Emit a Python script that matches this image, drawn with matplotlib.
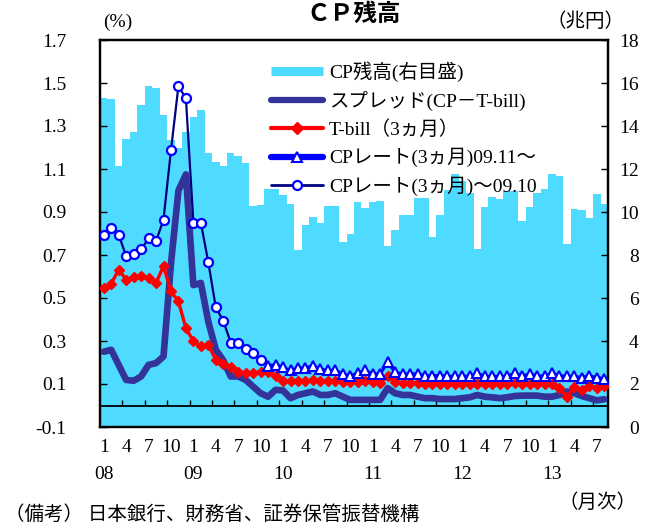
import numpy as np
import matplotlib
matplotlib.use("Agg")
import matplotlib.pyplot as plt
from matplotlib.lines import Line2D
from matplotlib.transforms import blended_transform_factory

SERIF_JP = ["Liberation Serif", "Noto Sans CJK JP"]
plt.rcParams["font.family"] = SERIF_JP

# Monthly data, Jan 2008 - Aug 2013
cp_balance = [15.30, 15.24, 12.14, 13.39, 13.70, 14.97, 15.86, 15.77, 14.49, 13.37,
              13.00, 13.70, 14.40, 14.75, 12.73, 12.33, 12.14, 12.73, 12.62, 12.30,
              10.26, 10.34, 11.08, 11.07, 10.80, 10.35, 8.21, 9.38, 9.75, 9.50,
              10.27, 10.27, 8.61, 9.00, 10.46, 10.20, 10.46, 10.49, 8.44, 9.16,
              9.87, 9.87, 10.65, 10.65, 8.83, 9.87, 11.02, 11.79, 11.43, 10.90,
              8.29, 10.23, 10.70, 10.59, 10.97, 10.97, 9.58, 10.23, 10.87, 11.08,
              11.75, 11.68, 8.49, 10.12, 10.10, 9.73, 10.82, 10.35]

spread = [0.250, 0.259, 0.189, 0.119, 0.115, 0.135, 0.189, 0.197, 0.228, 0.660,
          1.000, 1.075, 0.560, 0.570, 0.390, 0.260, 0.210, 0.135, 0.135, 0.119,
          0.088, 0.057, 0.041, 0.073, 0.070, 0.034, 0.049, 0.057, 0.065, 0.049,
          0.049, 0.057, 0.041, 0.026, 0.026, 0.026, 0.026, 0.026, 0.081, 0.057,
          0.049, 0.049, 0.041, 0.034, 0.034, 0.030, 0.030, 0.030, 0.034, 0.038,
          0.049, 0.041, 0.038, 0.034, 0.038, 0.044, 0.046, 0.046, 0.046, 0.041,
          0.041, 0.049, 0.065, 0.057, 0.044, 0.034, 0.024, 0.029]

tbill = [0.547, 0.566, 0.632, 0.586, 0.596, 0.601, 0.594, 0.570, 0.648, 0.531,
         0.484, 0.360, 0.298, 0.275, 0.282, 0.213, 0.192, 0.181, 0.158, 0.150,
         0.150, 0.158, 0.158, 0.135, 0.112, 0.115, 0.115, 0.115, 0.120, 0.115,
         0.112, 0.112, 0.110, 0.110, 0.110, 0.112, 0.110, 0.105, 0.135, 0.110,
         0.105, 0.105, 0.105, 0.100, 0.100, 0.100, 0.100, 0.100, 0.100, 0.100,
         0.100, 0.100, 0.100, 0.100, 0.100, 0.105, 0.100, 0.100, 0.100, 0.100,
         0.100, 0.080, 0.040, 0.085, 0.070, 0.090, 0.080, 0.090]

# CP rate up to Oct 2009
cp_rate_old = [0.795, 0.827, 0.795, 0.694, 0.705, 0.726, 0.777, 0.764, 0.865, 1.187,
               1.486, 1.428, 0.850, 0.850, 0.666, 0.456, 0.394, 0.293, 0.293, 0.264,
               0.244, 0.213]
# CP rate from Nov 2009
cp_rate_new = [0.186, 0.190, 0.178, 0.163, 0.175, 0.175, 0.186, 0.170, 0.163, 0.163,
               0.147, 0.139, 0.150, 0.163, 0.147, 0.147, 0.202, 0.155, 0.147, 0.147,
               0.147, 0.139, 0.139, 0.139, 0.136, 0.136, 0.136, 0.136, 0.150, 0.136,
               0.136, 0.136, 0.136, 0.150, 0.139, 0.145, 0.139, 0.136, 0.150, 0.139,
               0.136, 0.136, 0.130, 0.139, 0.130, 0.125]

month_labels = ["1", "4", "7", "10"] * 5 + ["1", "4", "7"]
year_labels = ["08", "09", "10", "11", "12", "13"]
left_ticks = [-0.1, 0.1, 0.3, 0.5, 0.7, 0.9, 1.1, 1.3, 1.5, 1.7]
right_ticks = list(range(0, 19, 2))

legend_labels = ["CP残高(右目盛)", "スプレッド(CP－T-bill)", "T-bill（3ヵ月）",
                 "CPレート(3ヵ月)09.11～", "CPレート(3ヵ月)～09.10"]

BAR_C = "#4FDBFF"
SPREAD_C = "#333399"
TB_C = "#FF0000"
NEW_C = "#0000FF"
OLD_C = "#000080"
FS = 14

n = len(cp_balance)
x = np.arange(n)
n_old = len(cp_rate_old)

fig = plt.figure(figsize=(6.49, 5.25), dpi=100)
ax = fig.add_axes([100 / 649, 98 / 525, 508 / 649, 387 / 525])
ax2 = ax.twinx()
ax.set_zorder(ax2.get_zorder() + 1)
ax.patch.set_visible(False)

# outstanding CP (right scale)
ax2.bar(x, cp_balance, width=1.0, color=BAR_C, linewidth=0)
ax2.set_ylim(0, 18)
ax2.set_yticks(right_ticks)
ax2.set_yticklabels([str(t) for t in right_ticks], fontsize=FS, family=SERIF_JP)
ax2.tick_params(axis="y", direction="in", length=5, width=1, pad=22)
for lab in ax2.get_yticklabels():
    lab.set_horizontalalignment("right")

# rates (left scale)
ax.set_xlim(-0.5, n - 0.5)
ax.set_ylim(-0.1, 1.7)
ax.set_yticks(left_ticks)
ax.set_yticklabels([f"{t:.1f}" for t in left_ticks], fontsize=FS, family=SERIF_JP)
ax.tick_params(axis="y", direction="in", length=5, width=1, pad=24)

ax.axhline(0, color="black", lw=1.3, zorder=2)
ax.vlines(np.arange(2.5, n - 0.5, 3), 0, 0.025, colors="black", lw=1, zorder=2)

ax.plot(x, spread, color=SPREAD_C, lw=4.8, solid_capstyle="round",
        solid_joinstyle="round", zorder=3)
ax.plot(x, tbill, color=TB_C, lw=2.4, marker="D", ms=5.5, mfc=TB_C, mec=TB_C, zorder=4)
ax.plot(x[n_old:], cp_rate_new, color=NEW_C, lw=2.2, marker="^", ms=7,
        mfc="white", mec=NEW_C, mew=1.5, zorder=5)
ax.plot(x[:n_old], cp_rate_old, color=OLD_C, lw=1.6, marker="o", ms=6.5,
        mfc="white", mec=NEW_C, mew=1.6, zorder=5)

# month / year labels
ax.set_xticks(x[::3])
ax.set_xticklabels(month_labels, fontsize=FS, family=SERIF_JP)
ax.tick_params(axis="x", length=0, pad=9)
trans = blended_transform_factory(ax.transData, ax.transAxes)
for i, lab in enumerate(year_labels):
    ax.text(i * 12, -0.122, lab, transform=trans, ha="center", va="center",
            fontsize=FS, family=SERIF_JP)

for a in (ax, ax2):
    for s in a.spines.values():
        s.set_linewidth(1.6)

handles = [
    Line2D([], [], color=BAR_C, lw=6.5, solid_capstyle="butt"),
    Line2D([], [], color=SPREAD_C, lw=4.5, solid_capstyle="round"),
    Line2D([], [], color=TB_C, lw=3, marker="D", ms=6, mfc=TB_C, mec=TB_C,
           solid_capstyle="round"),
    Line2D([], [], color=NEW_C, lw=4.5, marker="^", ms=7, mfc="white", mec=NEW_C,
           mew=1.5, solid_capstyle="round"),
    Line2D([], [], color=OLD_C, lw=2, marker="o", ms=6.5, mfc="white", mec=NEW_C,
           mew=1.6, solid_capstyle="round"),
]
ax.legend(handles, legend_labels, loc="upper left", bbox_to_anchor=(0.336, 0.945),
          frameon=False, prop={"family": SERIF_JP, "size": FS},
          handlelength=2.7, handletextpad=0.3, labelspacing=0.47, borderpad=0,
          borderaxespad=0)

fig.text(354 / 649, 1 - 14 / 525, "ＣＰ残高", ha="center", va="center",
         fontsize=17, fontweight="bold", family=["Noto Sans CJK JP"])
fig.text(118 / 649, 1 - 22 / 525, "(%)", ha="center", va="center", fontsize=FS,
         family=SERIF_JP)
fig.text(585 / 649, 1 - 22 / 525, "（兆円）", ha="center", va="center", fontsize=FS,
         family=SERIF_JP)
fig.text(598 / 649, 1 - 503 / 525, "（月次）", ha="center", va="center", fontsize=FS,
         family=SERIF_JP)
fig.text(5 / 649, 1 - 515 / 525, "（備考） 日本銀行、財務省、証券保管振替機構",
         ha="left", va="center", fontsize=FS, family=SERIF_JP)

fig.savefig("out.png", dpi=100)
